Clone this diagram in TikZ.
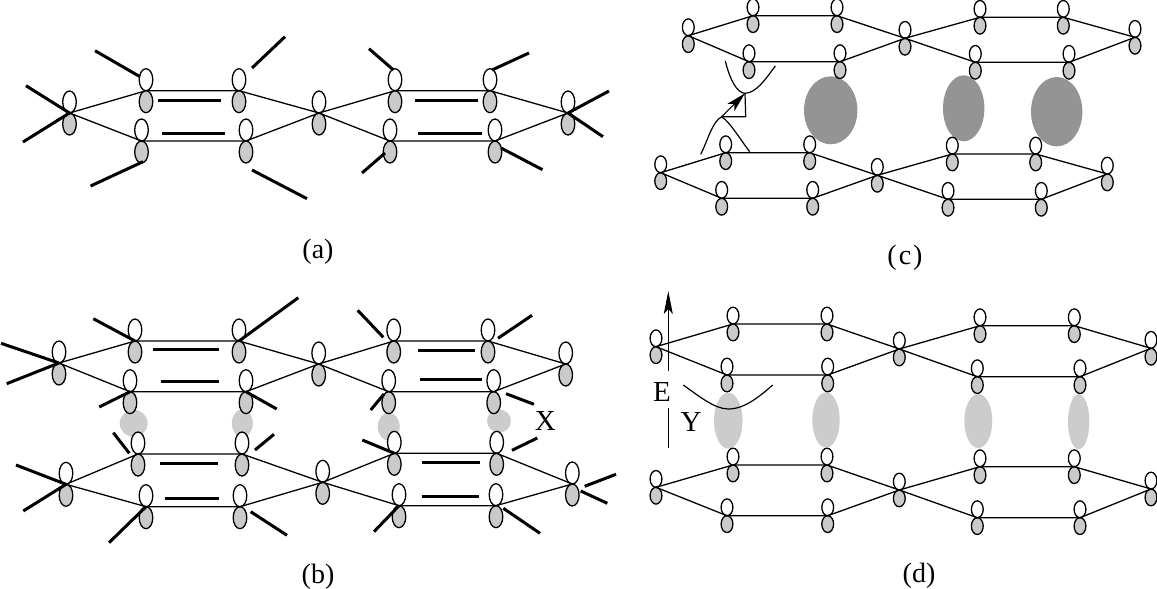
\documentclass[tikz,border=0pt]{standalone}
\usepackage{fontspec}
\setmainfont{Liberation Serif}
\usetikzlibrary{arrows.meta}
\definecolor{lobegray}{HTML}{CACACA}
\definecolor{blobdark}{HTML}{949494}
\definecolor{bloblight}{HTML}{CCCCCC}
\tikzset{
  bondline/.style={line width=1.3pt},
  heavyline/.style={line width=3pt},
  lobeW/.style={draw=black,fill=white,line width=1.3pt},
  lobeG/.style={draw=black,fill=lobegray,line width=1.3pt},
  caption/.style={font=\fontsize{28}{28}\selectfont,inner sep=0pt},
  biglabel/.style={font=\fontsize{29}{29}\selectfont,inner sep=0pt},
  thinline/.style={line width=1.2pt},
}
% atom: name, x, y, rx, ry
\newcommand{\atomat}[5]{%
  \coordinate (#1) at (#2,#3);
  \draw[lobeW] ([yshift=#5pt]#1) ellipse [x radius=#4pt,y radius=#5pt];
  \draw[lobeG] ([yshift=-#5pt]#1) ellipse [x radius=#4pt,y radius=#5pt];
}
\newcommand{\ringchain}[1]{%
  \draw[bondline] (#1L)--(#1T1)--(#1T2)--(#1C)--(#1T3)--(#1T4)--(#1R);
  \draw[bondline] (#1L)--(#1B1)--(#1B2)--(#1C)--(#1B3)--(#1B4)--(#1R);
}
\newcommand{\heavyfree}[4]{%
  \coordinate (hs) at (#1,#2); \coordinate (he) at (#3,#4);
  \draw[heavyline] (hs)--(he);
}
\newcommand{\heavyto}[3]{%
  \coordinate (hs) at (#1,#2);
  \draw[heavyline] (hs)--(#3);
}
\begin{document}
\begin{tikzpicture}[x=1pt,y=-1pt]
\useasboundingbox (0,0) rectangle (1157,589);
% blobs
\fill[bloblight] (133.7,423.3) ellipse [x radius=14pt,y radius=13.5pt];
\fill[bloblight] (242.3,423.3) ellipse [x radius=10.5pt,y radius=14pt];
\fill[bloblight] (388.7,426.7) ellipse [x radius=11pt,y radius=14pt];
\fill[bloblight] (499,421) ellipse [x radius=12pt,y radius=11.5pt];
\fill[blobdark] (830.7,110.3) ellipse [x radius=26.7pt,y radius=34pt];
\fill[blobdark] (963.7,108.3) ellipse [x radius=20.7pt,y radius=33pt];
\fill[blobdark] (1056.7,111.7) ellipse [x radius=25.7pt,y radius=34.7pt];
\fill[bloblight] (728.3,420.7) ellipse [x radius=14.3pt,y radius=28pt];
\fill[bloblight] (826,420) ellipse [x radius=13.7pt,y radius=27.7pt];
\fill[bloblight] (978.3,421) ellipse [x radius=14pt,y radius=27pt];
\fill[bloblight] (1078.7,421.7) ellipse [x radius=10.7pt,y radius=27.5pt];
% atoms: large lobes
\foreach \n/\x/\y in {
 aL/69.5/113,aT1/146/90.7,aT2/239/90.7,aC/319/113,aT3/395/90.7,aT4/490/90.7,aR/568/113,
 aB1/141.5/141,aB2/246/141,aB3/390/141,aB4/495/141,
 bL/59/363,bT1/135/341,bT2/239/341,bC/318.7/364,bT3/393.7/341,bT4/488/341,bR/565.7/364,
 bB1/130/391.7,bB2/246/391.7,bB3/388.7/391.7,bB4/493.7/391.7,
 eL/66/484.3,eT1/138/454,eT2/242/454,eC/322.7/482.3,eT3/394.3/453.3,eT4/496.7/453.3,eR/572.3/484,
 eB1/146/506.7,eB2/240/506.7,eB3/399/505.7,eB4/496/505.7}
 {\atomat{\n}{\x}{\y}{6.8}{11}}
% atoms: small lobes
\foreach \n/\x/\y in {
 cL/688.3/35.7,cT1/753/15.7,cT2/837/15.7,cC/905/38.3,cT3/980/17.3,cT4/1063.3/17.3,cR/1135/37.3,
 cB1/749/61.7,cB2/840/61.7,cB3/975.3/62.3,cB4/1069/62.3,
 fL/660.7/172.7,fT1/725.7/152.7,fT2/809.7/152.7,fC/877.3/175.3,fT3/952.3/154,fT4/1035.7/154,fR/1107.3/174,
 fB1/721.7/198.3,fB2/812.7/198.3,fB3/948/199.3,fB4/1041.3/199.3,
 dL/656/346.7,dT1/733/324,dT2/827/324,dC/899.3/349,dT3/980/325.7,dT4/1074.3/325.7,dR/1151/348.3,
 dB1/727/375,dB2/827.7/375,dB3/977.3/376.7,dB4/1080/376.7,
 gL/656/487.3,gT1/733/465,gT2/827/465,gC/899.3/490,gT3/980/466.7,gT4/1074.3/466.7,gR/1151/489,
 gB1/727/515.7,gB2/827.7/515.7,gB3/977.3/517.7,gB4/1080/517.7}
 {\atomat{\n}{\x}{\y}{5.9}{8.4}}
% rings
\foreach \p in {a,b,e,c,f,d,g} {\ringchain{\p}}
% double bond bars
\foreach \xa/\xb/\y in {158/221/100.5,162/225/133.5,414.5/478/100.5,418/482/133.5,
 153.3/219.3/349.5,160.7/219.3/381.5,160/217.7/463.5,164.7/219/498.5,
 418.3/474.7/350.5,420/482/379.5,422.3/479.7/462.5,421.7/479.3/496.5}
 {\heavyfree{\xa}{\y}{\xb}{\y}}
% substituents (a)
\heavyto{26}{85.7}{aL}
\heavyto{23}{142}{aL}
\heavyfree{95}{50.7}{140}{76.7}
\heavyfree{285}{36.7}{252}{68}
\heavyfree{90.6}{186}{143}{161.7}
\heavyfree{252}{170}{307}{198.7}
\heavyfree{369}{48.7}{393.5}{70}
\heavyfree{529}{53}{492}{70}
\heavyfree{362}{173}{385}{153}
\heavyfree{501}{148}{542.5}{169.7}
\heavyto{609}{91}{aR}
\heavyto{603}{136.7}{aR}
% substituents (b)
\heavyto{1}{343.3}{bL}
\heavyto{6.7}{383.7}{bL}
\heavyto{93.3}{318.7}{bT1}
\heavyto{298.3}{297.7}{bT2}
\heavyto{99.3}{407}{bB1}
\heavyto{276.7}{409}{bB2}
\heavyfree{113.3}{432.7}{129.3}{453.3}
\heavyfree{274}{434.3}{255}{450}
\heavyto{16}{465}{eL}
\heavyto{23.3}{511}{eL}
\heavyto{109}{542.7}{eB1}
\heavyfree{250.7}{511.7}{287}{535.3}
\heavyfree{357.7}{310.3}{383.3}{337.3}
\heavyfree{532}{315.3}{498}{338.3}
\heavyfree{370.7}{410}{384}{394}
\heavyfree{506}{393.7}{534}{404.3}
\heavyto{362.3}{440}{eT3}
\heavyfree{512}{450.3}{537.3}{438}
\heavyto{374}{531.7}{eB3}
\heavyfree{503.3}{508.3}{540}{533.3}
\heavyfree{584.7}{486.3}{616}{474.3}
\heavyfree{580.7}{491}{607.3}{503.3}
% (c) orbitals and arrow
\coordinate (ctip) at (745,93.3);
\coordinate (cbase) at (721.7,116.7);
\coordinate (ccorner) at (745.7,116.7);
\draw[thinline] (725.3,61) .. controls (730,80) and (737,93) .. (ctip) .. controls (756,93) and (765,80) .. (775.3,66);
\draw[thinline] (700.7,154.3) .. controls (708,140) and (712,122) .. (cbase) .. controls (730,122) and (742,142) .. (749.7,151.7);
\draw[thinline,-{Stealth[length=20pt,width=10pt,inset=5pt]}] (cbase)--(ctip);
\draw[thinline] (cbase)--(ccorner)--(ctip);
% (d) orbital and axis
\draw[thinline] (683.3,385) .. controls (700,397) and (715,409) .. (728.3,409) .. controls (745,409) and (760,396) .. (772.7,385);
\coordinate (axisb) at (668.3,371);
\coordinate (axist) at (668.3,291);
\coordinate (axisc) at (668.3,407.7);
\coordinate (axisd) at (668.3,447.7);
\draw[thinline,-{Stealth[length=23pt,width=9pt,inset=5pt]}] (axisb)--(axist);
\draw[thinline] (axisc)--(axisd);
% labels
\node[biglabel] (lE) at (662,391.7) {E};
\node[biglabel] (lY) at (691,422.3) {Y};
\node[biglabel] (lX) at (545.3,421) {X};
\node[caption] (la) at (318,252) {(a)};
\node[caption] (lb) at (318,577) {(b)};
\node[caption] (lc) at (905,258) {(\kern2pt c\kern2pt)};
\node[caption] (ld) at (919,576) {(d)};
\end{tikzpicture}
\end{document}
